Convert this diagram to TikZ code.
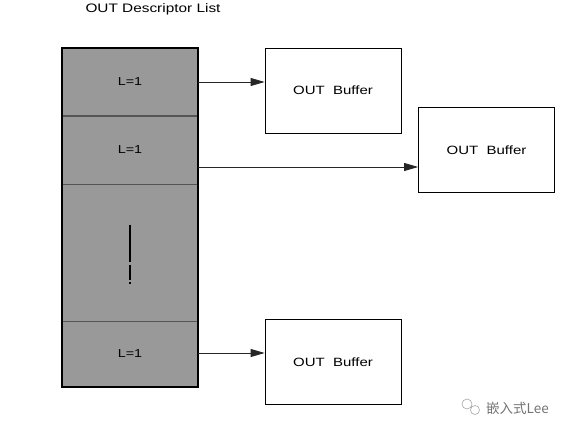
\documentclass[tikz,border=0pt]{standalone}
\usepackage{fontspec}
\setmainfont{Liberation Sans}
\newfontfamily\wide[FakeStretch=1.25]{Liberation Sans}
\newfontfamily\cjk{Noto Sans CJK SC}
\usetikzlibrary{arrows.meta}
\definecolor{cellgray}{HTML}{999999}
\definecolor{divgray}{HTML}{555555}
\begin{document}
\begin{tikzpicture}[x=1pt,y=-1pt,
  cell/.style={fill=cellgray,draw=none,minimum width=136pt,inner sep=0pt,font=\wide\fontsize{11.5}{13}\selectfont},
  buf/.style={draw=black,line width=0.8pt,fill=white,minimum width=136pt,minimum height=85pt,inner sep=0pt,font=\wide\fontsize{12}{14}\selectfont},
  arr/.style={draw=black!85,line width=0.8pt,-{Triangle[length=14pt,width=8pt]}}]
\useasboundingbox (0,0) rectangle (571,435);
\node[font=\wide\fontsize{12.3}{14}\selectfont] (title) at (153,9) {OUT Descriptor List};
% cells
\node[cell,minimum height=68pt] (c1) at (130,82) {L=1};
\node[cell,minimum height=68pt] (c2) at (130,150) {};
\node[font=\wide\fontsize{11.5}{13}\selectfont] (l2) at (130,150) {L=1};
\node[cell,minimum height=137pt] (c3) at (130,252.5) {};
\node[cell,minimum height=66pt] (c4) at (130,354) {L=1};
\draw[divgray,line width=1.4pt] (c1.south west) -- (c1.south east);
\draw[divgray,line width=1pt] (c2.south west) -- (c2.south east);
\draw[divgray,line width=1pt] (c3.south west) -- (c3.south east);
\draw[black,line width=2pt] (c1.north west) rectangle (c4.south east);
% ellipsis bar
\coordinate (v1) at (130,225);
\coordinate (v2) at (130,262);
\coordinate (v3) at (130,265);
\coordinate (v4) at (130,280);
\coordinate (v5) at (130,282);
\coordinate (v6) at (130,284);
\draw[black,line width=1.6pt] (v1) -- (v2) (v3) -- (v4) (v5) -- (v6);
% buffers
\node[buf] (b1) at (333,90.5) {OUT\ \ Buffer};
\node[buf] (b2) at (486.5,150) {OUT\ \ Buffer};
\node[buf] (b3) at (333,362) {OUT\ \ Buffer};
\coordinate (s2) at (198,167);
\coordinate (s3) at (198,353);
\draw[arr] (c1.east) -- (c1.east -| b1.west);
\draw[arr] (s2) -- (s2 -| b2.west);
\draw[arr] (s3) -- (s3 -| b3.west);
% watermark
\draw[black!35,line width=0.6pt] (467,404) circle (5pt) (475,410) circle (4.5pt);
\node[anchor=west,text=black!55,font=\cjk\fontsize{13.5}{15}\selectfont,inner sep=0pt] (wm) at (486,408) {嵌入式Lee};
\end{tikzpicture}
\end{document}
